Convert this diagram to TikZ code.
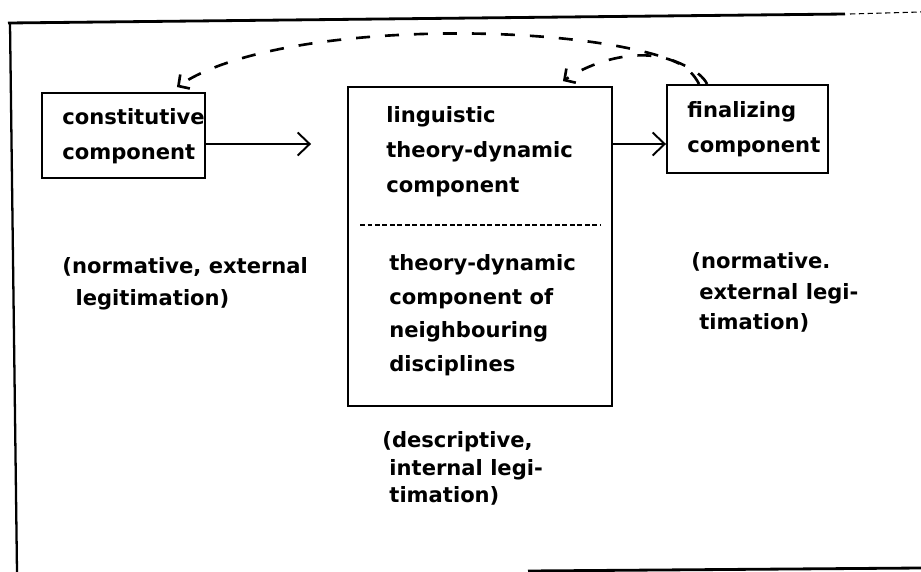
\documentclass[tikz,border=0pt]{standalone}
\usepackage{fontspec}
\setmainfont{DejaVu Sans}
\usepackage{tikz}
\usetikzlibrary{positioning, arrows.meta}

\begin{document}
\begin{tikzpicture}[x=0.02cm, y=-0.02cm,
		box/.style={rectangle, draw, line width=1.1pt, inner sep=0pt},
		txt/.style={align=left, inner sep=0pt, font=\fontsize{12}{20}\selectfont\bfseries},
		lbl/.style={align=left, inner sep=0pt, font=\fontsize{12}{18.5}\selectfont\bfseries},
		back/.style={-{Straight Barb[length=1.6mm, width=3.4mm]}, line width=1.5pt, dash pattern=on 0.28cm off 0.3cm},
		>={Straight Barb[length=2.4mm, width=4.6mm]}]
	\useasboundingbox (0,0) rectangle (921,572);

	% Cornice
	\draw[line width=1.6pt] (8,23) -- (845,14);
	\draw[line width=0.6pt, densely dashed] (850,14) -- (921,12);
	\draw[line width=1.3pt] (10,23) -- (17,572);
	\draw[line width=1.6pt] (528,571) -- (921,568);

	% Components
	\node[box, minimum width=3.26cm, minimum height=1.7cm] (constit) at (123.5,135.5) {};
	\node[txt, below right=0.32cm and 0.42cm of constit.north west] (constittxt) {constitutive\\component};

	\node[box, minimum width=5.28cm, minimum height=6.38cm] (theory) at (480,246.5) {};
	\node[txt, below right=0.4cm and 0.78cm of theory.north west] (lingtxt) {linguistic\\theory-dynamic\\component};
	\coordinate (sepl) at (360,225);
	\coordinate (sepr) at (600,225);
	\draw[line width=1.1pt, dash pattern=on 0.1cm off 0.05cm] (sepl) -- (sepr);
	\node[txt, font=\fontsize{12}{19.2}\selectfont\bfseries, below right=0.58cm and 0.58cm of sepl] (neightxt) {theory-dynamic\\component of\\neighbouring\\disciplines};

	\node[box, minimum width=3.22cm, minimum height=1.76cm] (final) at (747.5,129) {};
	\node[txt, below right=0.34cm and 0.42cm of final.north west] (finaltxt) {finalizing\\component};

	% Legitimation
	\node[lbl, below right=1.56cm and 0.42cm of constit.south west] (normleft) {(normative, external\\\hspace*{7.5pt}legitimation)};
	\node[lbl, font=\fontsize{12}{17.5}\selectfont\bfseries, below right=1.56cm and 0.5cm of final.south west] (normright) {(normative.\\\hspace*{4.5pt}external legi-\\\hspace*{4.5pt}timation)};
	\node[lbl, font=\fontsize{12}{15.8}\selectfont\bfseries, below right=0.48cm and 0.7cm of theory.south west] (descr) {(descriptive,\\\hspace*{4pt}internal legi-\\\hspace*{4pt}timation)};

	% Connections
	\coordinate (arra) at ([yshift=-0.17cm]constit.east);
	\coordinate (arrb) at ([yshift=-0.3cm]final.west);
	\draw[->, line width=1.1pt, shorten >=0.72cm] (arra) -- (arra -| theory.west);
	\draw[->, line width=1.1pt] (arrb -| theory.east) -- (arrb);

	% Feedback
	\draw[back] ([xshift=0.82cm]final.north west) .. controls +(-28,-60) and +(114,-78) .. ([xshift=-0.58cm, yshift=0.1cm]constit.north east);
	\draw[back] ([xshift=0.66cm]final.north west) .. controls +(-20,-40) and +(48,-32) .. ([xshift=-1.0cm, yshift=0.1cm]theory.north east);
\end{tikzpicture}
\end{document}
